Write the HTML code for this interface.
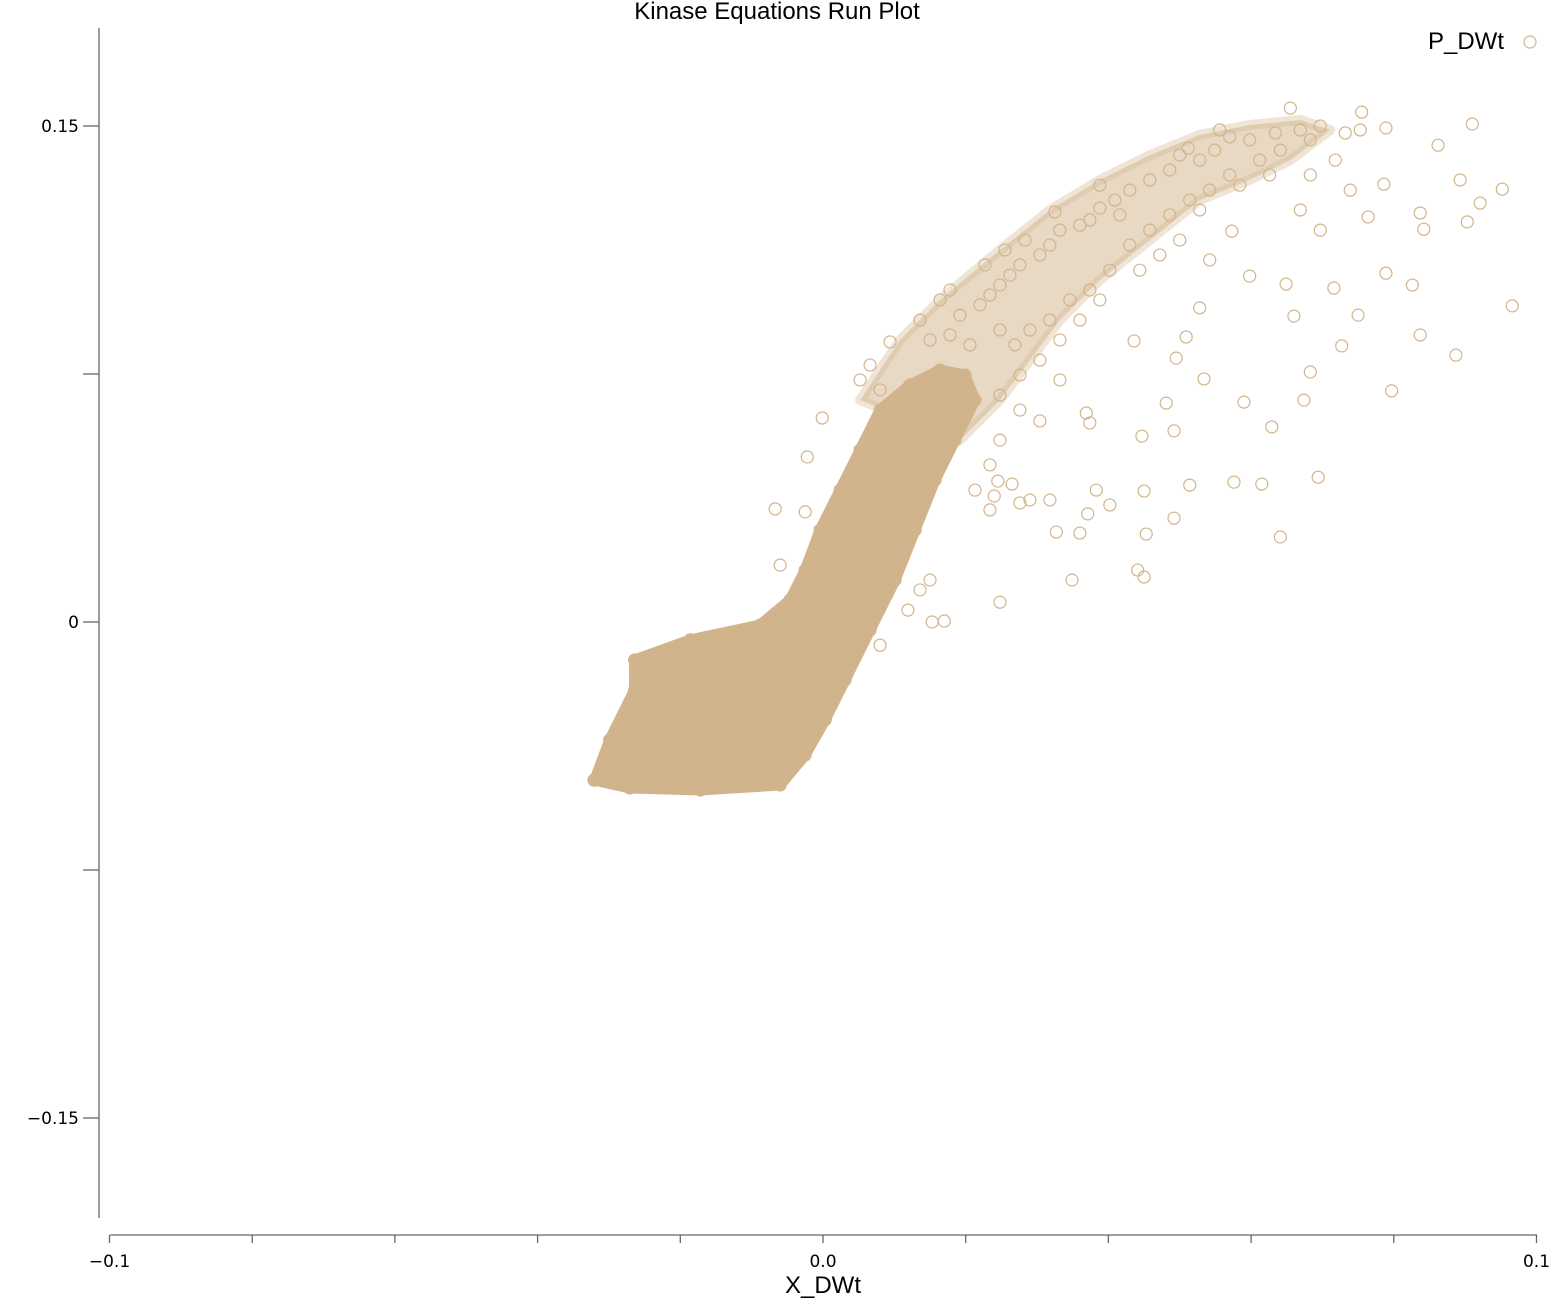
<!DOCTYPE html>
<html><head><meta charset="utf-8"><style>
html,body{margin:0;padding:0;background:#fff;}
svg{display:block;font-family:"DejaVu Sans","Liberation Sans",sans-serif;}
</style></head><body>
<svg id="chart" width="1555" height="1304" viewBox="0 0 1555 1304" xmlns="http://www.w3.org/2000/svg">
<text x="777" y="19" text-anchor="middle" font-size="24" font-family="Liberation Sans, sans-serif">Kinase Equations Run Plot</text>
<g>
<text x="1504" y="49" text-anchor="end" font-size="24" font-family="Liberation Sans, sans-serif">P_DWt</text>
<circle cx="1530" cy="42" r="6" fill="none" stroke="#d2b48c" stroke-width="1.2"/>
</g>
<g id="axes"></g>
<g id="marks"></g>
<text x="823" y="1293" text-anchor="middle" font-size="24" font-family="Liberation Sans, sans-serif">X_DWt</text>
</svg>
<script>
const xTicks=[-0.1,-0.08,-0.06,-0.04,-0.02,0,0.02,0.04,0.06,0.08,0.1];
const xTickLabels=["−0.1","","","","","0.0","","","","","0.1"];
const yTicks=[0.15,0.075,0,-0.075,-0.15];
const yTickLabels=["0.15","","0","","−0.15"];
const coreX=[-0.0320,-0.0299,-0.0264,-0.0264,-0.0186,-0.0088,-0.0046,-0.0025,-0.0004,0.0024,0.0052,0.0080,0.0122,0.0164,0.0199,0.0213,0.0185,0.0157,0.0129,0.0101,0.0066,0.0031,0.0003,-0.0025,-0.0060,-0.0172,-0.0271];
const coreY=[-0.0478,-0.0357,-0.0206,-0.0115,-0.0054,-0.0009,0.0067,0.0157,0.0278,0.0399,0.0520,0.0641,0.0717,0.0762,0.0747,0.0671,0.0550,0.0429,0.0278,0.0127,-0.0024,-0.0175,-0.0296,-0.0402,-0.0493,-0.0508,-0.0502];
const bandX=[0.0052,0.0108,0.0164,0.0248,0.0318,0.0388,0.0458,0.0528,0.0598,0.0669,0.0711,0.0655,0.0598,0.0528,0.0458,0.0388,0.0332,0.0290,0.0248,0.0192];
const bandY=[0.0671,0.0853,0.0974,0.1125,0.1246,0.1337,0.1412,0.1473,0.1503,0.1518,0.1488,0.1397,0.1337,0.1276,0.1155,0.1034,0.0913,0.0792,0.0671,0.0550];
const pX=[0.0910,0.0966,0.0952,0.0921,0.0903,0.0893,0.0887,0.0862,0.0837,0.0842,0.0837,0.0826,0.0797,0.0789,0.0786,0.0764,0.0750,0.0727,0.0716,0.0694,0.0683,0.0674,0.0660,0.0649,0.0641,0.0629,0.0615,0.0598,0.0590,0.0576,0.0573,0.0542,0.0534,0.0528,0.0514,0.0509,0.0495,0.0492,0.0492,0.0481,0.0453,0.0450,0.0447,0.0450,0.0441,0.0436,0.0402,0.0383,0.0374,0.0369,0.0371,0.0349,0.0360,0.0327,0.0318,0.0304,0.0290,0.0276,0.0265,0.0248,0.0245,0.0240,0.0234,0.0213,0.0170,0.0153,0.0150,0.0136,0.0119,0.0080,-0.0001,-0.0022,-0.0067,-0.0025,-0.0060,-0.0321,
0.0655,0.0755,0.0789,0.0753,0.0732,0.0697,0.0669,0.0634,0.0598,0.0570,0.0549,0.0528,0.0512,0.0500,0.0486,0.0458,0.0430,0.0409,0.0388,0.0374,0.0360,0.0332,0.0318,0.0304,0.0276,0.0262,0.0248,0.0234,0.0220,0.0192,0.0164,0.0136,0.0150,0.0178,0.0206,0.0248,0.0269,0.0290,0.0318,0.0346,0.0374,0.0402,0.0430,0.0458,0.0486,0.0514,0.0542,0.0570,0.0612,0.0641,0.0683,0.0626,0.0584,0.0528,0.0500,0.0472,0.0444,0.0388,0.0360,0.0332,0.0304,0.0276,0.0248,0.0332,0.0276,0.0248,0.0234,0.0094,0.0066,0.0080,0.0052,0.0556,0.0388,0.0416,0.0325,0.0283,0.0255,0.0227,0.0178,0.0669,0.0697,0.0739,0.0718,0.0683];
const pY=[0.1506,0.0956,0.1309,0.1267,0.1210,0.1337,0.0807,0.1442,0.1237,0.1188,0.0868,0.1019,0.0699,0.1055,0.1324,0.1225,0.0928,0.0835,0.1010,0.0438,0.0756,0.0671,0.0925,0.1022,0.0257,0.0590,0.0417,0.1046,0.0665,0.0423,0.1182,0.1095,0.0735,0.0950,0.0414,0.0862,0.0798,0.0578,0.0314,0.0662,0.0266,0.0396,0.0562,0.0136,0.0157,0.0850,0.0354,0.0399,0.0602,0.0632,0.0327,0.0127,0.0269,0.0272,0.0369,0.0608,0.0369,0.0360,0.0417,0.0060,0.0426,0.0381,0.0339,0.0399,0.0003,0.0000,0.0127,0.0097,0.0036,-0.0070,0.0617,0.0499,0.0342,0.0333,0.0172,-0.0478,
0.1554,0.1542,0.1494,0.1488,0.1479,0.1500,0.1488,0.1479,0.1458,0.1467,0.1427,0.1397,0.1433,0.1412,0.1367,0.1337,0.1306,0.1276,0.1252,0.1216,0.1200,0.1185,0.1140,0.1110,0.1080,0.1049,0.1019,0.0989,0.0959,0.0928,0.0974,0.0913,0.0853,0.0868,0.0838,0.0883,0.0838,0.0883,0.0913,0.0974,0.1004,0.1064,0.1140,0.1185,0.1231,0.1276,0.1306,0.1352,0.1397,0.1427,0.1458,0.1352,0.1321,0.1246,0.1155,0.1110,0.1064,0.0974,0.0913,0.0853,0.0792,0.0747,0.0686,0.0732,0.0641,0.0550,0.0475,0.0847,0.0777,0.0702,0.0732,0.1488,0.1321,0.1231,0.1240,0.1155,0.1125,0.1080,0.1004,0.1246,0.1185,0.1306,0.1397,0.1352];
const NS='http://www.w3.org/2000/svg';
const xs=v=>823+v*7135;
const ys=v=>622-v*3306.67;
const axes=document.getElementById('axes');
const marks=document.getElementById('marks');
function mk(tag,attrs,parent){const e=document.createElementNS(NS,tag);for(const k in attrs)e.setAttribute(k,attrs[k]);parent.appendChild(e);return e;}
let yl=mk('line',{x1:99,y1:28,x2:99,y2:1218,stroke:'#666','stroke-width':1.3},axes);


let xl=mk('line',{x1:110,y1:1235,x2:1537,y2:1235,stroke:'#666','stroke-width':1.3},axes);


yTicks.forEach((t,i)=>{
  const y=ys(t);
  const tk=mk('line',{x1:83,y1:y,x2:99,y2:y,stroke:'#666','stroke-width':1.3},axes);
  
  
  if(yTickLabels[i]){const tx=mk('text',{x:79,y:y+6,'text-anchor':'end','font-size':17},axes);tx.textContent=yTickLabels[i];
  
  }
});
xTicks.forEach((t,i)=>{
  const x=xs(t);
  const tk=mk('line',{x1:x,y1:1235,x2:x,y2:1243,stroke:'#666','stroke-width':1.3},axes);
  
  
  if(xTickLabels[i]){const tx=mk('text',{x:x,y:1267,'text-anchor':'middle','font-size':17},axes);tx.textContent=xTickLabels[i];
  
  }
});
const bpts=bandX.map((v,i)=>xs(v).toFixed(1)+','+ys(bandY[i]).toFixed(1)).join(' ');
const band=mk('polygon',{points:bpts,fill:'#d2b48c','fill-opacity':0.5,stroke:'#d2b48c','stroke-opacity':0.35,'stroke-width':10,'stroke-linejoin':'round'},marks);


const pts=coreX.map((v,i)=>xs(v).toFixed(1)+','+ys(coreY[i]).toFixed(1)).join(' ');
const core=mk('polygon',{points:pts,fill:'#d2b48c',stroke:'#d2b48c','stroke-width':11,'stroke-linejoin':'round'},marks);


coreX.forEach((v,i)=>{
  const c=mk('circle',{cx:xs(v),cy:ys(coreY[i]),r:6,fill:'none',stroke:'#d2b48c','stroke-width':1.2},marks);
  
  
});
pX.forEach((v,i)=>{
  const c=mk('circle',{cx:xs(v),cy:ys(pY[i]),r:6,fill:'none',stroke:'#d2b48c','stroke-width':1.2},marks);
  
  
});
</script>
</body></html>
